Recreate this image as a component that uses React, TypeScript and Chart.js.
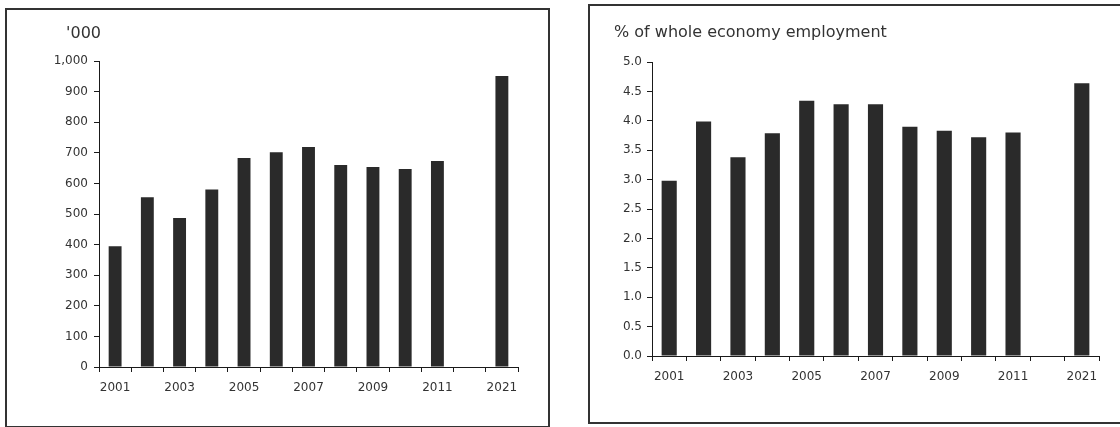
import React, { useEffect, useRef } from "react";
import { Chart, registerables } from "chart.js";

Chart.register(...registerables);

const categories = ["2001", "2002", "2003", "2004", "2005", "2006", "2007", "2008", "2009", "2010", "2011", "", "2021"];
const employmentThousands = [395, 555, 487, 580, 683, 702, 719, 660, 654, 647, 673, null, 951];
const employmentShare = [2.98, 3.99, 3.38, 3.79, 4.34, 4.28, 4.28, 3.9, 3.83, 3.72, 3.8, null, 4.64];
const leftTitle = "'000";
const rightTitle = "% of whole economy employment";

const FONT = "'DejaVu Sans', 'Liberation Sans', Arial, sans-serif";
const BAR = "#2a2a2a";
const TEXT = "#333333";
const AXIS = "#1a1a1a";

type Cfg = {
  data: (number | null)[];
  max: number;
  step: number;
  fmt: (v: number) => string;
  yWidth: number;
  xHeight: number;
  padTop: number;
  padRight: number;
  barPct: number;
  yPad: number;
  w: number;
  h: number;
};

function BarPanel(props: Cfg) {
  const ref = useRef<HTMLCanvasElement | null>(null);
  useEffect(() => {
    if (!ref.current) return;
    const c = new Chart(ref.current, {
      type: "bar",
      data: {
        labels: categories,
        datasets: [
          {
            data: props.data as any,
            backgroundColor: BAR,
            borderWidth: 0,
            barPercentage: props.barPct,
            categoryPercentage: 1,
          },
        ],
      },
      options: {
        animation: false,
        responsive: false,
        devicePixelRatio: 1,
        layout: { padding: { top: props.padTop, right: props.padRight, left: 0, bottom: 0 } },
        plugins: { legend: { display: false }, tooltip: { enabled: false }, title: { display: false } },
        scales: {
          x: {
            grid: { display: true, drawOnChartArea: false, drawTicks: true, tickLength: 5, color: AXIS, offset: true },
            border: { display: true, color: AXIS, width: 1 },
            ticks: {
              autoSkip: false,
              maxRotation: 0,
              padding: 9,
              color: TEXT,
              font: { family: FONT, size: 12 },
              callback: (_v: any, i: number) => (i % 2 === 0 ? categories[i] : ""),
            },
            afterFit: (s: any) => {
              s.height = props.xHeight;
            },
          },
          y: {
            min: 0,
            max: props.max,
            grid: { display: true, drawOnChartArea: false, drawTicks: true, tickLength: 5, color: AXIS },
            border: { display: true, color: AXIS, width: 1 },
            ticks: {
              stepSize: props.step,
              padding: props.yPad,
              color: TEXT,
              font: { family: FONT, size: 12 },
              callback: (v: any) => props.fmt(Number(v)),
            },
            afterFit: (s: any) => {
              s.width = props.yWidth;
            },
          },
        },
      },
    });
    return () => c.destroy();
  }, []);
  return <canvas ref={ref} width={props.w} height={props.h} style={{ display: "block" }} />;
}

export default function App() {
  return (
    <div style={{ position: "fixed", left: 0, top: 0, width: 1120, height: 427, background: "#fff", overflow: "hidden" }}>
      {/* left panel frame */}
      <div
        style={{
          position: "absolute",
          left: 5,
          top: 8,
          width: 541,
          height: 416,
          border: "2px solid #333",
        }}
      />
      {/* right panel frame */}
      <div
        style={{
          position: "absolute",
          left: 588,
          top: 4,
          width: 600,
          height: 416,
          border: "2px solid #333",
        }}
      />
      <div style={{ position: "absolute", left: 8, top: 11 }}>
        <BarPanel
          data={employmentThousands}
          max={1000}
          step={100}
          fmt={(v) => v.toLocaleString("en-US")}
          yWidth={91}
          xHeight={56}
          padTop={50}
          padRight={28}
          barPct={0.4}
          yPad={6}
          w={538}
          h={412}
        />
      </div>
      <div style={{ position: "absolute", left: 591, top: 7 }}>
        <BarPanel
          data={employmentShare}
          max={5}
          step={0.5}
          fmt={(v) => v.toFixed(1)}
          yWidth={61}
          xHeight={65}
          padTop={55}
          padRight={21}
          barPct={0.44}
          yPad={5}
          w={529}
          h={414}
        />
      </div>
      <div
        style={{
          position: "absolute",
          left: 20,
          width: 81,
          top: 23,
          textAlign: "right",
          fontFamily: FONT,
          fontSize: 16,
          lineHeight: "20px",
          color: TEXT,
        }}
      >
        {leftTitle}
      </div>
      <div
        style={{
          position: "absolute",
          left: 614,
          top: 22,
          fontFamily: FONT,
          fontSize: 16,
          lineHeight: "20px",
          color: TEXT,
          whiteSpace: "nowrap",
        }}
      >
        {rightTitle}
      </div>
    </div>
  );
}
